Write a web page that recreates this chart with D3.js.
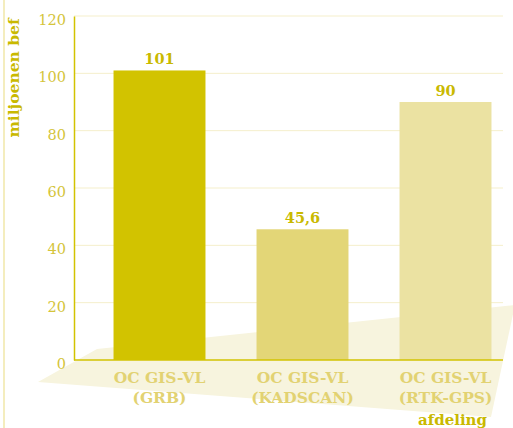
<!DOCTYPE html>
<html>
<head>
<meta charset="utf-8">
<script src="https://cdn.jsdelivr.net/npm/d3@7"></script>
<style>
  html, body { margin: 0; padding: 0; background: #ffffff; }
  svg { display: block; }
  text { font-family: "DejaVu Serif", "Liberation Serif", serif; }
</style>
</head>
<body>
<script>
// Afdelingen (two-line labels) and their values in millions
const categories = [
  ["OC GIS-VL", "(GRB)"],
  ["OC GIS-VL", "(KADSCAN)"],
  ["OC GIS-VL", "(RTK-GPS)"]
];
const values = [101, 45.6, 90];
const valueLabels = ["101", "45,6", "90"];
const barColors = ["#d2c300", "#e3d677", "#ebe2a2"];
const yTicks = [0, 20, 40, 60, 80, 100, 120];
const yTitle = "miljoenen bef";
const xTitle = "afdeling";

const W = 513, H = 428;
const svg = d3.select("body").append("svg").attr("width", W).attr("height", H);

const plot = { left: 74, right: 503, top: 16, bottom: 360 };

const y = d3.scaleLinear().domain([0, 120]).range([plot.bottom, plot.top]);
const x = d3.scaleBand()
  .domain(d3.range(categories.length))
  .range([88, 517])
  .paddingInner(0.357)
  .paddingOuter(0.1785);

// thin frame line on the left page edge
svg.append("line")
  .attr("x1", 4).attr("x2", 4).attr("y1", 0).attr("y2", H)
  .attr("stroke", "#f0e7a8").attr("stroke-width", 1.5);

// floor shadow under the bars
svg.append("polygon")
  .attr("points", [[38, 382], [97, 349], [515, 305], [491, 417]].map(p => p.join(",")).join(" "))
  .attr("fill", "#f7f4de");

// horizontal gridlines
svg.append("g")
  .selectAll("line")
  .data(yTicks.filter(d => d > 0))
  .join("line")
  .attr("x1", plot.left).attr("x2", plot.right)
  .attr("y1", d => y(d)).attr("y2", d => y(d))
  .attr("stroke", "#f5efcb").attr("stroke-width", 1);

// bars
svg.append("g")
  .selectAll("rect")
  .data(values)
  .join("rect")
  .attr("x", (d, i) => x(i))
  .attr("width", x.bandwidth())
  .attr("y", d => y(d))
  .attr("height", d => y(0) - y(d))
  .attr("fill", (d, i) => barColors[i]);

// value labels above the bars
svg.append("g")
  .selectAll("text")
  .data(values)
  .join("text")
  .attr("x", (d, i) => x(i) + x.bandwidth() / 2)
  .attr("y", d => y(d) - 6)
  .attr("text-anchor", "middle")
  .attr("font-weight", "bold")
  .attr("font-size", 14.5)
  .attr("fill", "#c9b900")
  .text((d, i) => valueLabels[i]);

// y axis
const yAxis = d3.axisLeft(y).tickValues(yTicks).tickSize(0).tickPadding(8);
const gy = svg.append("g").attr("transform", `translate(${plot.left},0)`).call(yAxis);
gy.select(".domain").attr("stroke", "#d2c300").attr("stroke-width", 1.5);
gy.selectAll("text")
  .attr("font-family", "DejaVu Serif, serif")
  .attr("font-size", 14.5)
  .attr("dy", 8.5)
  .attr("fill", "#d4c43a");

// x axis baseline
svg.append("line")
  .attr("x1", plot.left).attr("x2", plot.right)
  .attr("y1", plot.bottom).attr("y2", plot.bottom)
  .attr("stroke", "#d2c300").attr("stroke-width", 1.5);

// category labels
const cat = svg.append("g")
  .selectAll("text")
  .data(categories)
  .join("text")
  .attr("x", (d, i) => x(i) + x.bandwidth() / 2)
  .attr("y", 383)
  .attr("text-anchor", "middle")
  .attr("font-weight", "bold")
  .attr("font-size", 15.5)
  .attr("fill", "#e2d272");
cat.selectAll("tspan")
  .data(d => d)
  .join("tspan")
  .attr("x", function () { return d3.select(this.parentNode).attr("x"); })
  .attr("dy", (d, i) => i === 0 ? 0 : 20)
  .text(d => d);

// axis titles
svg.append("text")
  .attr("transform", "translate(19,78) rotate(-90)")
  .attr("text-anchor", "middle")
  .attr("font-weight", "bold")
  .attr("font-size", 15.5)
  .attr("fill", "#c9b900")
  .text(yTitle);

svg.append("text")
  .attr("x", 487).attr("y", 425)
  .attr("text-anchor", "end")
  .attr("font-weight", "bold")
  .attr("font-size", 15)
  .attr("fill", "#c9b900")
  .text(xTitle);
</script>
</body>
</html>
